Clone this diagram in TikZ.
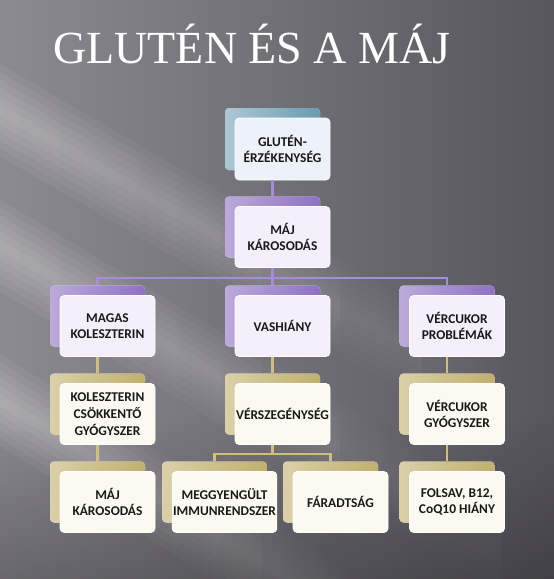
\documentclass[tikz,border=0pt]{standalone}
\usepackage{fontspec}
\setmainfont{Liberation Serif}
\newfontfamily\boxfont{Carlito}
\usetikzlibrary{positioning,shadows,fadings}

\definecolor{bglight}{HTML}{8C8A91}
\definecolor{bgdark}{HTML}{58565D}
\definecolor{tealback}{HTML}{6A9BB0}
\definecolor{purpleback}{HTML}{8F71C2}
\definecolor{goldback}{HTML}{C2B06E}
\definecolor{purpleline}{HTML}{A88CD8}
\definecolor{goldline}{HTML}{CFBE7E}
\definecolor{bluefront}{HTML}{EDF2F8}
\definecolor{purplefront}{HTML}{F4EFFB}
\definecolor{goldfront}{HTML}{FBFAF2}

\begin{document}
\begin{tikzpicture}[x=1pt, y=-1pt,
	node distance=88pt and 175pt,
	on grid,
	every node/.style={font=\boxfont\bfseries\fontsize{13.4}{16.7}\selectfont, text=black!90, align=center},
	entry/.style={rectangle, rounded corners=4pt, minimum width=95pt, minimum height=61pt,
		inner sep=1pt, draw=white, line width=0.6pt},
	topbox/.style={entry, fill=bluefront,
		copy shadow={shadow xshift=-10pt, shadow yshift=10pt, draw=none,
			left color=tealback!55!white, right color=tealback}},
	purplebox/.style={entry, fill=purplefront,
		copy shadow={shadow xshift=-10pt, shadow yshift=10pt, draw=none,
			left color=purpleback!60!white, right color=purpleback}},
	goldbox/.style={entry, fill=goldfront,
		copy shadow={shadow xshift=-10pt, shadow yshift=10pt, draw=none,
			left color=goldback!60!white, right color=goldback}},
	purplecon/.style={draw=purpleline, line width=2.2pt},
	goldcon/.style={draw=goldline, line width=2.2pt}]

% Background
\useasboundingbox (0,0) rectangle (554,579);
\shade[left color=bglight, right color=bgdark] (0,0) rectangle (554,579);
% soft light beams
\foreach \by/\bs in {110/0.58, 245/0.6, 400/0.62}
	\foreach \bw in {6,14,22,30,38,46}
		\fill[white, opacity=0.055, path fading=east]
			(0,{\by-\bw}) -- (560,{\by+560*\bs-\bw}) -- (560,{\by+560*\bs+\bw}) -- (0,{\by+\bw}) -- cycle;
\fill[black, opacity=0.25, path fading=north] (0,420) rectangle (554,579);

% Title
\node[font=\fontsize{46}{50}\selectfont, text=white, anchor=base] (title) at (252,63)
	{GLUTÉN ÉS A MÁJ};

% Boxes
\node[topbox, minimum height=62pt] (glut) at (282.5,149) {GLUTÉN-\\ÉRZÉKENYSÉG};

\node[purplebox,
	below=of glut] (maj) {MÁJ\\KÁROSODÁS};

\node[purplebox,
	below=89pt of maj] (vas) {VASHIÁNY};

\node[purplebox,
	left=of vas] (magas) {MAGAS\\KOLESZTERIN};

\node[purplebox,
	right=174.5pt of vas] (vercuk) {VÉRCUKOR\\PROBLÉMÁK};

\node[goldbox,
	below=of magas] (kolgy) {KOLESZTERIN\\CSÖKKENTŐ\\GYÓGYSZER};

\node[goldbox,
	below=of vas] (versz) {VÉRSZEGÉNYSÉG};

\node[goldbox,
	below=of vercuk] (vercgy) {VÉRCUKOR\\GYÓGYSZER};

\node[goldbox,
	below=of kolgy] (majk) {MÁJ\\KÁROSODÁS};

\node[goldbox,
	below left=88pt and 58pt of versz] (immun) {MEGGYENGÜLT\\IMMUNRENDSZER};

\node[goldbox,
	below right=88pt and 58pt of versz] (farad) {FÁRADTSÁG};

\node[goldbox,
	below=of vercgy] (folsav) {FOLSAV, B12,\\CoQ10 HIÁNY};

% connections
\draw[purplecon] ([xshift=-10pt]glut.south) -- ([xshift=-10pt,yshift=10pt]maj.north);

\draw[purplecon] ([xshift=-10pt]maj.south) -- ++(0pt,-10pt) -| ([xshift=-10pt,yshift=10pt]magas.north);
\draw[purplecon] ([xshift=-10pt]maj.south) -- ++(0pt,-10pt) -| ([xshift=-10pt,yshift=10pt]vercuk.north);
\draw[purplecon] ([xshift=-10pt]maj.south) -- ([xshift=-10pt,yshift=10pt]vas.north);

\draw[goldcon] ([xshift=-10pt]magas.south) -- ([xshift=-10pt,yshift=10pt]kolgy.north);
\draw[goldcon] ([xshift=-10pt]kolgy.south) -- ([xshift=-10pt,yshift=10pt]majk.north);

\draw[goldcon] ([xshift=-10pt]vas.south) -- ([xshift=-10pt,yshift=10pt]versz.north);
\draw[goldcon] ([xshift=-10pt]versz.south) -- ++(0pt,-9pt) -| ([xshift=-10pt,yshift=10pt]immun.north);
\draw[goldcon] ([xshift=-10pt]versz.south) -- ++(0pt,-9pt) -| ([xshift=-10pt,yshift=10pt]farad.north);

\draw[goldcon] ([xshift=-10pt]vercuk.south) -- ([xshift=-10pt,yshift=10pt]vercgy.north);
\draw[goldcon] ([xshift=-10pt]vercgy.south) -- ([xshift=-10pt,yshift=10pt]folsav.north);

\end{tikzpicture}
\end{document}
